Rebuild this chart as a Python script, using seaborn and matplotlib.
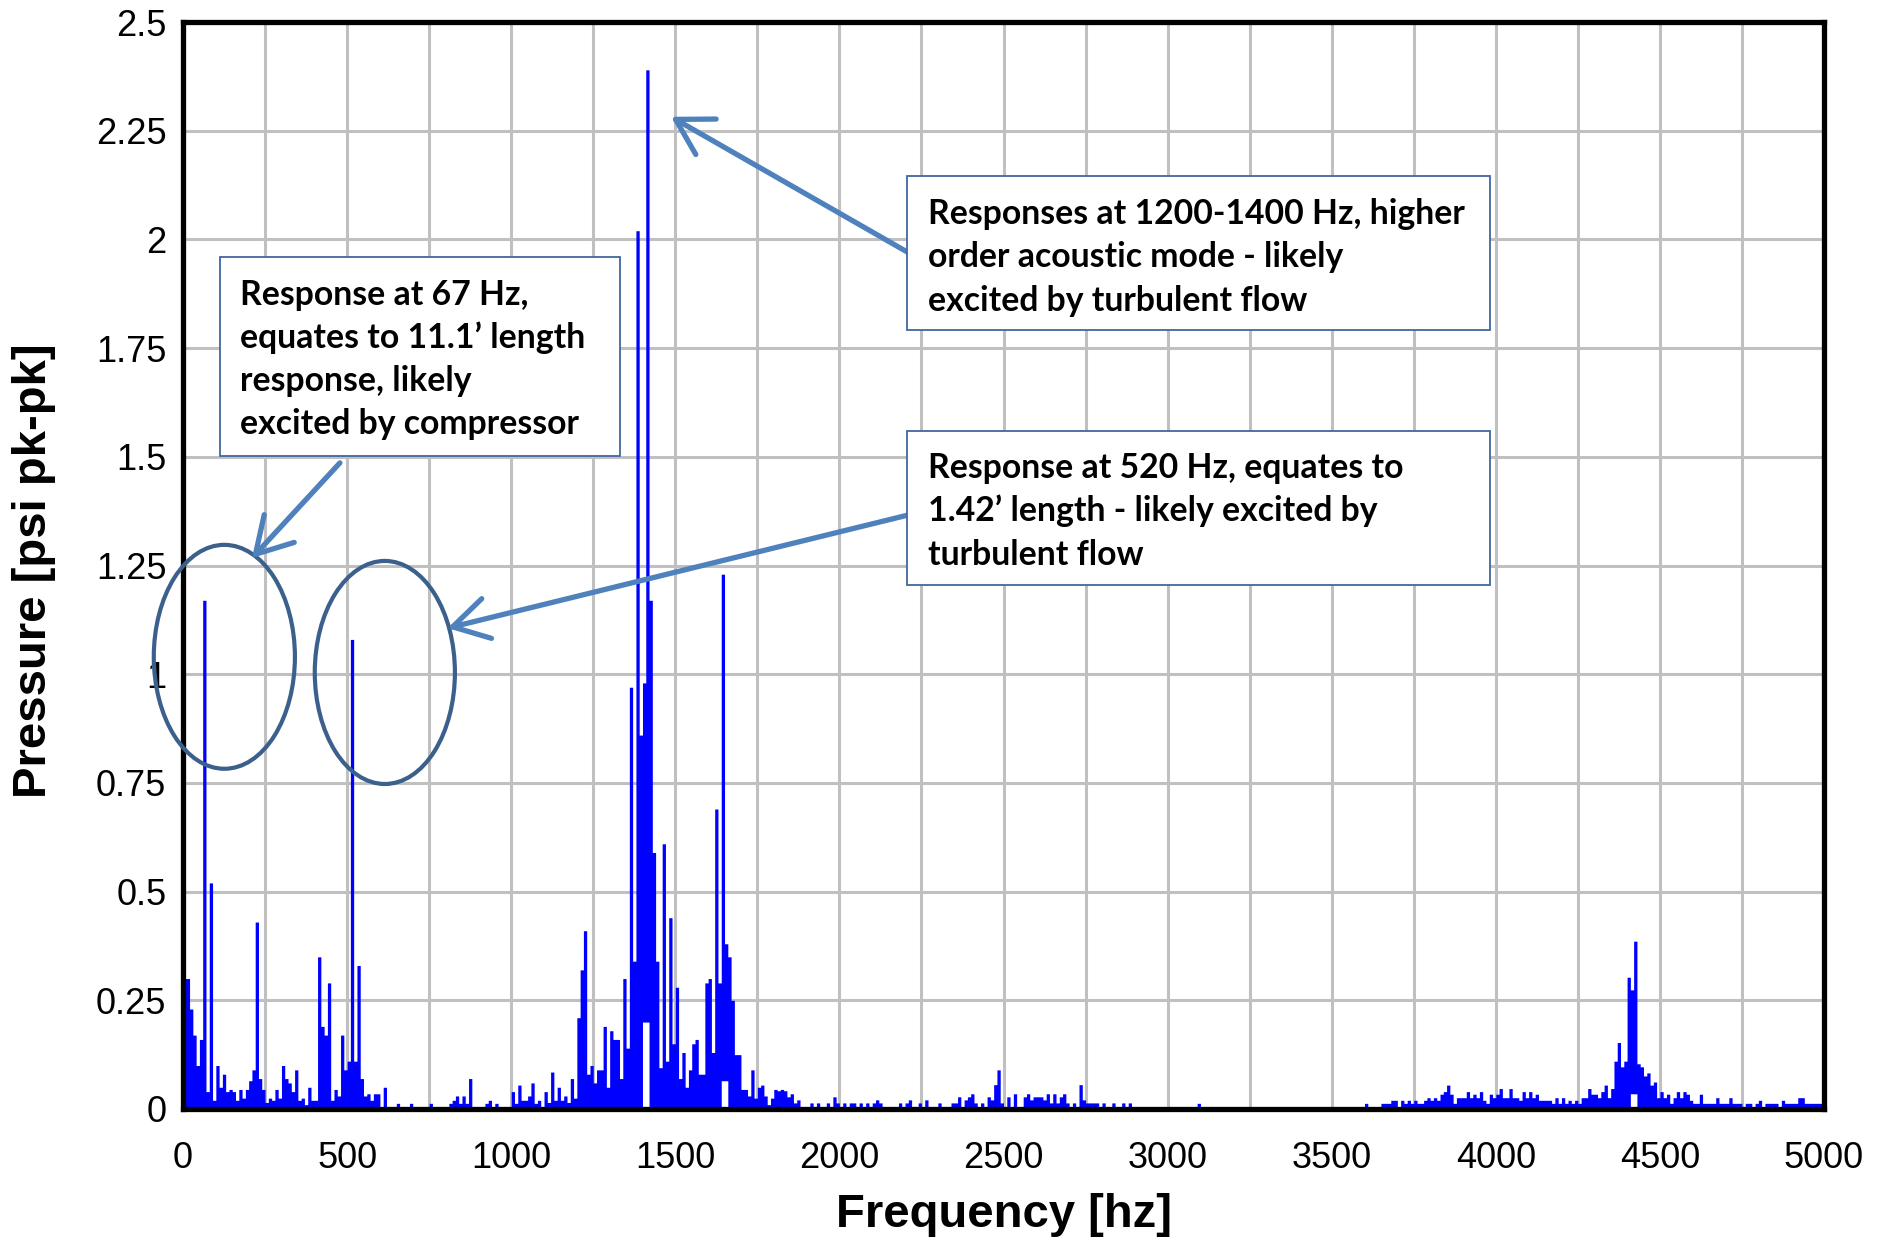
import numpy as np
import pandas as pd
import matplotlib
matplotlib.use("Agg")
import matplotlib.pyplot as plt
from matplotlib.patches import Ellipse, Rectangle, FancyArrowPatch
from matplotlib.ticker import FuncFormatter
import seaborn as sns

# ---------------- data: pressure spectrum [psi pk-pk], 10 Hz bins ----------------
BIN_HZ = 10
band_starts = [0, 500, 1000, 1500, 2000, 2500, 3000, 3500, 4000, 4500]

amp_0000 = [0.30, 0.30, 0.23, 0.17, 0.10, 0.16, 1.17, 0.04, 0.52, 0.02,
            0.10, 0.05, 0.08, 0.04, 0.045, 0.04, 0.02, 0.045, 0.025, 0.045,
            0.065, 0.09, 0.43, 0.07, 0.045, 0.015, 0.025, 0.02, 0.045, 0.025,
            0.10, 0.07, 0.06, 0.04, 0.09, 0.02, 0.025, 0.01, 0.05, 0.02,
            0.02, 0.35, 0.19, 0.17, 0.29, 0.02, 0.045, 0.03, 0.17, 0.09]
amp_0500 = [0.11, 1.08, 0.11, 0.33, 0.07, 0.03, 0.035, 0.02, 0.035, 0.035,
            0.0, 0.05, 0.0, 0.0, 0.0, 0.013, 0.0, 0.0, 0.0, 0.013,
            0.0, 0.0, 0.0, 0.0, 0.0, 0.013, 0.0, 0.0, 0.0, 0.0,
            0.0, 0.013, 0.02, 0.03, 0.013, 0.03, 0.013, 0.07, 0.0, 0.0,
            0.0, 0.0, 0.013, 0.02, 0.0, 0.013, 0.0, 0.0, 0.0, 0.0]
amp_1000 = [0.04, 0.013, 0.055, 0.02, 0.02, 0.03, 0.06, 0.013, 0.02, 0.0,
            0.04, 0.015, 0.085, 0.02, 0.05, 0.02, 0.03, 0.015, 0.07, 0.025,
            0.21, 0.32, 0.41, 0.08, 0.10, 0.06, 0.09, 0.09, 0.19, 0.05,
            0.18, 0.16, 0.16, 0.07, 0.30, 0.14, 0.97, 0.34, 2.02, 0.86,
            0.98, 2.39, 1.17, 0.59, 0.34, 0.095, 0.61, 0.11, 0.44, 0.15]
amp_1500 = [0.28, 0.07, 0.13, 0.05, 0.09, 0.15, 0.16, 0.08, 0.08, 0.29,
            0.30, 0.13, 0.69, 0.29, 1.23, 0.38, 0.35, 0.25, 0.125, 0.125,
            0.045, 0.045, 0.03, 0.09, 0.025, 0.05, 0.055, 0.03, 0.01, 0.025,
            0.045, 0.042, 0.045, 0.042, 0.028, 0.035, 0.014, 0.021, 0.0, 0.0,
            0.0, 0.014, 0.0, 0.014, 0.0, 0.0, 0.014, 0.0, 0.028, 0.014]
amp_2000 = [0.0, 0.014, 0.0, 0.014, 0.014, 0.0, 0.014, 0.0, 0.014, 0.0,
            0.014, 0.021, 0.014, 0.0, 0.0, 0.0, 0.0, 0.0, 0.014, 0.0,
            0.014, 0.021, 0.0, 0.0, 0.014, 0.0, 0.021, 0.0, 0.0, 0.0,
            0.014, 0.0, 0.0, 0.0, 0.014, 0.014, 0.028, 0.0, 0.021, 0.028,
            0.035, 0.014, 0.0, 0.014, 0.0, 0.028, 0.021, 0.056, 0.09, 0.014]
amp_2500 = [0.0, 0.028, 0.0, 0.035, 0.0, 0.0, 0.028, 0.035, 0.021, 0.028,
            0.028, 0.028, 0.021, 0.035, 0.014, 0.035, 0.014, 0.028, 0.035, 0.014,
            0.0, 0.014, 0.0, 0.056, 0.021, 0.014, 0.014, 0.014, 0.014, 0.0,
            0.014, 0.0, 0.0, 0.014, 0.0, 0.0, 0.014, 0.0, 0.014, 0.0,
            0.0, 0.0, 0.0, 0.0, 0.0, 0.0, 0.0, 0.0, 0.0, 0.0]
amp_3000 = [0.0, 0.0, 0.0, 0.0, 0.0, 0.0, 0.0, 0.0, 0.0, 0.013,
            0.0, 0.0, 0.0, 0.0, 0.0, 0.0, 0.0, 0.0, 0.0, 0.0,
            0.0, 0.0, 0.0, 0.0, 0.0, 0.0, 0.0, 0.0, 0.0, 0.0,
            0.0, 0.0, 0.0, 0.0, 0.0, 0.0, 0.0, 0.0, 0.0, 0.0,
            0.0, 0.0, 0.0, 0.0, 0.0, 0.0, 0.0, 0.0, 0.0, 0.0]
amp_3500 = [0.0, 0.0, 0.0, 0.0, 0.0, 0.0, 0.0, 0.0, 0.0, 0.0,
            0.013, 0.0, 0.0, 0.0, 0.0, 0.013, 0.013, 0.013, 0.02, 0.02,
            0.0, 0.02, 0.013, 0.02, 0.013, 0.02, 0.013, 0.013, 0.02, 0.026,
            0.02, 0.026, 0.02, 0.034, 0.04, 0.055, 0.034, 0.013, 0.026, 0.026,
            0.026, 0.04, 0.026, 0.034, 0.026, 0.04, 0.02, 0.013, 0.034, 0.026]
amp_4000 = [0.034, 0.047, 0.026, 0.026, 0.047, 0.026, 0.026, 0.02, 0.04, 0.026,
            0.04, 0.026, 0.034, 0.02, 0.02, 0.02, 0.02, 0.013, 0.026, 0.013,
            0.026, 0.013, 0.02, 0.013, 0.02, 0.013, 0.026, 0.026, 0.047, 0.034,
            0.034, 0.026, 0.04, 0.055, 0.026, 0.047, 0.11, 0.153, 0.097, 0.11,
            0.303, 0.274, 0.386, 0.104, 0.097, 0.076, 0.083, 0.055, 0.062, 0.026]
amp_4500 = [0.04, 0.026, 0.034, 0.013, 0.026, 0.04, 0.026, 0.04, 0.034, 0.02,
            0.013, 0.013, 0.034, 0.013, 0.013, 0.013, 0.013, 0.026, 0.013, 0.013,
            0.013, 0.026, 0.013, 0.013, 0.013, 0.0, 0.013, 0.013, 0.0, 0.013,
            0.02, 0.0, 0.013, 0.013, 0.013, 0.013, 0.0, 0.02, 0.013, 0.013,
            0.013, 0.013, 0.026, 0.026, 0.013, 0.013, 0.013, 0.013, 0.013, 0.013]

# lowest level reached inside the densest clusters (spectrum never returns to zero there)
notch_freqs = [1400, 1410, 1640, 1650, 4410, 4420]
notch_floor = [0.20, 0.20, 0.065, 0.065, 0.035, 0.035]

x_ticks = [0, 500, 1000, 1500, 2000, 2500, 3000, 3500, 4000, 4500, 5000]
y_ticks = [0, 0.25, 0.5, 0.75, 1, 1.25, 1.5, 1.75, 2, 2.25, 2.5]

box1_lines = ["Response at 67 Hz,", "equates to 11.1\u2019 length",
              "response, likely", "excited by compressor"]
box2_lines = ["Responses at 1200-1400 Hz, higher", "order acoustic mode - likely",
              "excited by turbulent flow"]
box3_lines = ["Response at 520 Hz, equates to", "1.42\u2019 length - likely excited by",
              "turbulent flow"]

# ---------------- build frame ----------------
bands = [amp_0000, amp_0500, amp_1000, amp_1500, amp_2000,
         amp_2500, amp_3000, amp_3500, amp_4000, amp_4500]
freq = np.concatenate([np.arange(s, s + 500, BIN_HZ) for s in band_starts])
amp = np.concatenate([np.asarray(b, float) for b in bands])
df = pd.DataFrame({"freq": freq + BIN_HZ / 2, "amp": amp})
df_notch = pd.DataFrame({"freq": np.asarray(notch_freqs) + BIN_HZ / 2,
                         "amp": np.asarray(notch_floor, float)})

sns.set_theme(style="white")
plt.rcParams['font.family'] = ['Liberation Sans', 'DejaVu Sans']
BOX_FONT = ['Lato', 'DejaVu Sans']

W, H = 1886, 1243
L, R, T, B = 183, 1824, 22, 1109
fig = plt.figure(figsize=(W / 100, H / 100), dpi=100)
fig.patch.set_facecolor("white")
ax = fig.add_axes([L / W, 1 - B / H, (R - L) / W, (B - T) / H])
ax.set_facecolor("white")

hist_kw = dict(x="freq", weights="amp", binwidth=BIN_HZ, binrange=(0, 5000),
               element="step", fill=True, alpha=1, linewidth=0, ax=ax)
sns.histplot(data=df, color="#0000ff", zorder=2, **hist_kw)
sns.histplot(data=df_notch, color="white", zorder=2.1, **hist_kw)

ax.set_xlim(0, 5000)
ax.set_ylim(0, 2.5)
ax.set_xticks(x_ticks)
ax.set_xticks(np.arange(0, 5001, 250), minor=True)
ax.set_yticks(y_ticks)
ax.xaxis.set_major_formatter(FuncFormatter(lambda v, p: f"{int(round(v))}"))
ax.yaxis.set_major_formatter(FuncFormatter(lambda v, p: f"{v:g}"))
ax.tick_params(axis="both", which="both", length=0, labelsize=26, colors="black")
ax.tick_params(axis="x", pad=23)
ax.tick_params(axis="y", pad=12)
ax.set_axisbelow(True)
ax.grid(True, which="both", color="#c0c0c0", linewidth=2.2)
for s in ax.spines.values():
    s.set_visible(True)
    s.set_color("black")
    s.set_linewidth(3.8)
    s.set_zorder(3)

ax.set_xlabel("Frequency [hz]", fontsize=34, fontweight="bold", color="black")
ax.xaxis.set_label_coords(0.5, (B - 1215) / (B - T))
ax.xaxis.label.set_va("center")
ax.set_ylabel("Pressure [psi pk-pk]", fontsize=34, fontweight="bold", color="black")
ax.yaxis.set_label_coords((34 - L) / (R - L), (B - 571) / (B - T))
ax.yaxis.label.set_va("center")


def py_to(py):
    return (B - py) / (B - T)


def px_to(px):
    return (px - L) / (R - L)


# ellipses around the two low-frequency responses
ell_kw = dict(fill=False, edgecolor="#3c608c", linewidth=3.0, clip_on=False, zorder=5)
ax.add_patch(Ellipse((126, 1.04), 430, 0.515, **ell_kw))
ax.add_patch(Ellipse((615, 1.004), 427, 0.513, **ell_kw))

# arrows
arr_kw = dict(arrowstyle="->,head_length=0.6,head_width=0.35", mutation_scale=42,
              color="#4f81bd", linewidth=3.8, clip_on=False, zorder=6,
              shrinkA=0, shrinkB=0, capstyle="round", joinstyle="round")
ax.add_patch(FancyArrowPatch((478, 1.486), (210, 1.267), **arr_kw))
ax.add_patch(FancyArrowPatch((2209, 1.970), (1487, 2.282), **arr_kw))
ax.add_patch(FancyArrowPatch((2209, 1.366), (806, 1.106), **arr_kw))

# fit box text size to the reference line width
fig.canvas.draw()
rend = fig.canvas.get_renderer()
probe = fig.text(0, 0, box2_lines[0], fontsize=20, fontweight="bold", family=BOX_FONT)
wpx = probe.get_window_extent(rend).width
probe.remove()
box_fs = 20 * 537 / wpx


def add_box(x0, y0, x1, y1, text_x, baselines, lines):
    ax.add_patch(Rectangle((px_to(x0), py_to(y1)), px_to(x1) - px_to(x0),
                           py_to(y0) - py_to(y1), transform=ax.transAxes,
                           facecolor="white", edgecolor="#41689f", linewidth=1.3,
                           clip_on=False, zorder=7))
    for bl, line in zip(baselines, lines):
        ax.text(px_to(text_x), py_to(bl), line, transform=ax.transAxes, ha="left",
                va="baseline", fontsize=box_fs, fontweight="bold", family=BOX_FONT,
                color="black", zorder=8, clip_on=False)


add_box(220, 257, 620, 456, 240, [305, 348, 391, 434], box1_lines)
add_box(907, 176, 1490, 330, 928, [224, 267, 311], box2_lines)
add_box(907, 431, 1490, 585, 928, [478, 521, 565], box3_lines)

fig.savefig("out.png", dpi=100, facecolor="white")
